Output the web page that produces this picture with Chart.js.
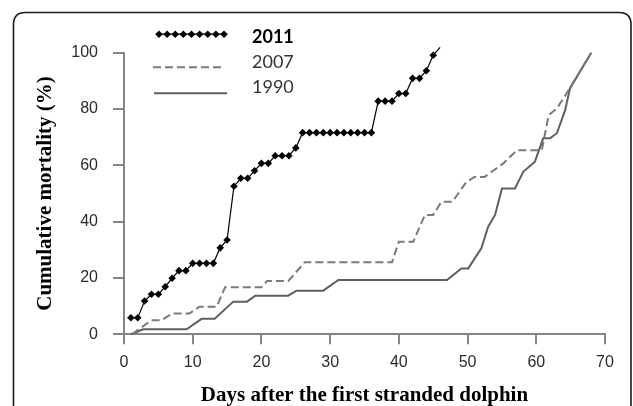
<!DOCTYPE html>
<html><head><meta charset="utf-8">
<script src="https://cdn.jsdelivr.net/npm/chart.js@4.4.0/dist/chart.umd.min.js"></script>
<style>html,body{margin:0;padding:0;background:#fff;overflow:hidden}#wrap{position:relative;width:633px;height:406px}</style>
</head><body><div id="wrap"><canvas id="c" width="633" height="406"></canvas></div>
<script>
// ---- data ----
const seriesNames = ['2011', '2007', '1990'];
const days2011 = [1,2,3,4,5,6,7,8,9,10,11,12,13,14,15,16,17,18,19,20,21,22,23,24,25,26,27,28,29,30,31,32,33,34,35,36,37,38,39,40,41,42,43,44,45,46];
const mort2011 = [5.9,5.9,11.8,14.2,14.2,16.9,19.9,22.6,22.6,25.2,25.2,25.2,25.2,30.7,33.5,52.6,55.4,55.4,58.1,60.7,60.7,63.4,63.4,63.4,66.2,71.6,71.6,71.6,71.6,71.6,71.6,71.6,71.6,71.6,71.6,71.6,82.8,82.8,82.8,85.5,85.5,90.9,90.9,93.6,99.1,101.9];
const days2007 = [1.2,2,4,5.5,7,9.5,11,13.5,14.7,20,20.8,23.9,26.3,39,40,42.1,43.8,45,46.2,47.8,49.8,51,52.5,55.2,57.2,60.8,61.8,63,64.4,66,68];
const mort2007 = [0,1.5,5,5,7.4,7.4,9.8,9.8,16.7,16.7,18.9,18.9,25.6,25.6,32.9,32.9,42.4,42.4,47.1,47.1,54,55.9,55.9,60.7,65.4,65.4,77.8,80.2,85.5,92,100];
const days1990 = [1,2.8,9.1,11.3,13.2,15.9,17.9,19.1,23.9,25.1,29,31.2,47,49.1,50.1,52,53,54,55,56.9,58.1,59.8,61,62,63,64.2,64.9,68];
const mort1990 = [0,1.8,1.8,5.5,5.5,11.6,11.6,13.7,13.7,15.5,15.5,19.3,19.3,23.4,23.4,30.5,38.2,42.4,51.8,51.8,57.7,61.3,69.6,69.6,71.4,79.6,87.3,100];
const xTicks = [0,10,20,30,40,50,60,70];
const yTicks = [0,20,40,60,80,100];
const xTitle = 'Days after the first stranded dolphin';
const yTitle = 'Cumulative mortality (%)';

const pts = (xs, ys) => xs.map((x, i) => ({x, y: ys[i]}));

const framePlugin = {
  id: 'frame',
  beforeDraw(chart) {
    const ctx = chart.ctx;
    ctx.save();
    ctx.fillStyle = '#fff';
    ctx.fillRect(0, 0, chart.width, chart.height);
    ctx.strokeStyle = '#1a1a1a';
    ctx.lineWidth = 1.6;
    const l = 13.5, t = 12.5, r = 631, b = 430, rad = 12;
    ctx.beginPath();
    ctx.moveTo(l, b);
    ctx.lineTo(l, t + rad);
    ctx.quadraticCurveTo(l, t, l + rad, t);
    ctx.lineTo(r - rad, t);
    ctx.quadraticCurveTo(r, t, r, t + rad);
    ctx.lineTo(r, b);
    ctx.stroke();
    ctx.restore();
  }
};

const legendPlugin = {
  id: 'customLegend',
  afterDatasetsDraw(chart) {
    const ctx = chart.ctx;
    const ca = chart.chartArea;
    const x0 = ca.left + 32, x1 = ca.left + 103;
    const rows = [ca.top - 18.5, ca.top + 14.5, ca.top + 40.5];
    const textY = [ca.top - 16, ca.top + 9, ca.top + 34];
    ctx.save();
    // 2011
    ctx.strokeStyle = '#000'; ctx.lineWidth = 1.2; ctx.setLineDash([]);
    ctx.beginPath(); ctx.moveTo(x0, rows[0]); ctx.lineTo(x1, rows[0]); ctx.stroke();
    ctx.fillStyle = '#000';
    for (let i = 0; i < 9; i++) {
      const cx = x0 + 3 + i * (x1 - x0 - 6) / 8, cy = rows[0], r = 3.8;
      ctx.beginPath(); ctx.moveTo(cx - r, cy); ctx.lineTo(cx, cy - r); ctx.lineTo(cx + r, cy); ctx.lineTo(cx, cy + r); ctx.closePath(); ctx.fill();
    }
    // 2007
    ctx.strokeStyle = '#7a7a7a'; ctx.lineWidth = 2; ctx.setLineDash([8, 4]);
    ctx.beginPath(); ctx.moveTo(x0 - 3, rows[1]); ctx.lineTo(x1 - 3, rows[1]); ctx.stroke();
    // 1990
    ctx.strokeStyle = '#5f5f5f'; ctx.lineWidth = 2; ctx.setLineDash([]);
    ctx.beginPath(); ctx.moveTo(x0 - 2, rows[2]); ctx.lineTo(x1, rows[2]); ctx.stroke();
    // texts
    ctx.textAlign = 'left'; ctx.textBaseline = 'middle';
    ctx.fillStyle = '#000';
    ctx.font = 'bold 18px Lato, "Liberation Sans", sans-serif';
    ctx.fillText(seriesNames[0], ca.left + 128, textY[0]);
    ctx.fillStyle = '#333';
    ctx.font = '18px Lato, "Liberation Sans", sans-serif';
    ctx.fillText(seriesNames[1], ca.left + 128, textY[1]);
    ctx.fillText(seriesNames[2], ca.left + 128, textY[2]);
    ctx.restore();
  }
};

const axisColor = '#858585';
new Chart(document.getElementById('c'), {
  type: 'line',
  data: {
    datasets: [
      { label: seriesNames[0], data: pts(days2011, mort2011), borderColor: '#000', backgroundColor: '#000', borderWidth: 1.2,
        pointStyle: 'rectRot', pointRadius: 3.8, pointBorderWidth: 0, tension: 0, clip: false },
      { label: seriesNames[1], data: pts(days2007, mort2007), borderColor: '#7a7a7a', borderWidth: 2, borderDash: [8, 4],
        pointRadius: 0, tension: 0, clip: false },
      { label: seriesNames[2], data: pts(days1990, mort1990), borderColor: '#5f5f5f', borderWidth: 2,
        pointRadius: 0, tension: 0, clip: false }
    ]
  },
  options: {
    responsive: false, animation: false, devicePixelRatio: 1,
    layout: { padding: { left: 0, right: 28, top: 52.7, bottom: 0 } },
    plugins: { legend: { display: false }, tooltip: { enabled: false } },
    scales: {
      x: {
        type: 'linear', min: 0, max: 70,
        afterBuildTicks: s => { s.ticks = xTicks.map(v => ({value: v})); },
        afterFit: s => { s.height = 71.7; },
        border: { color: axisColor, width: 2 },
        grid: { drawOnChartArea: false, drawTicks: true, tickLength: 10, color: axisColor, lineWidth: 2 },
        ticks: { color: '#2b2b2b', font: { family: '"Liberation Sans", Arial, sans-serif', size: 16 }, padding: 9, maxRotation: 0 },
        title: { display: true, text: xTitle, color: '#000', font: { family: '"Liberation Serif", "Times New Roman", serif', size: 21, weight: 'bold', lineHeight: 1 }, padding: { top: 0, bottom: 0 } }
      },
      y: {
        type: 'linear', min: 0, max: 100,
        afterBuildTicks: s => { s.ticks = yTicks.map(v => ({value: v})); },
        afterFit: s => { s.width = 124; },
        border: { color: axisColor, width: 2 },
        grid: { drawOnChartArea: false, drawTicks: true, tickLength: 11, color: axisColor, lineWidth: 2 },
        ticks: { color: '#2b2b2b', font: { family: '"Liberation Sans", Arial, sans-serif', size: 16 }, padding: 15 },
        title: { display: true, text: yTitle, color: '#000', font: { family: '"Liberation Serif", "Times New Roman", serif', size: 21, weight: 'bold', lineHeight: 1 }, padding: { top: 35, bottom: 0 } }
      }
    }
  },
  plugins: [framePlugin, legendPlugin]
});
</script></body></html>
